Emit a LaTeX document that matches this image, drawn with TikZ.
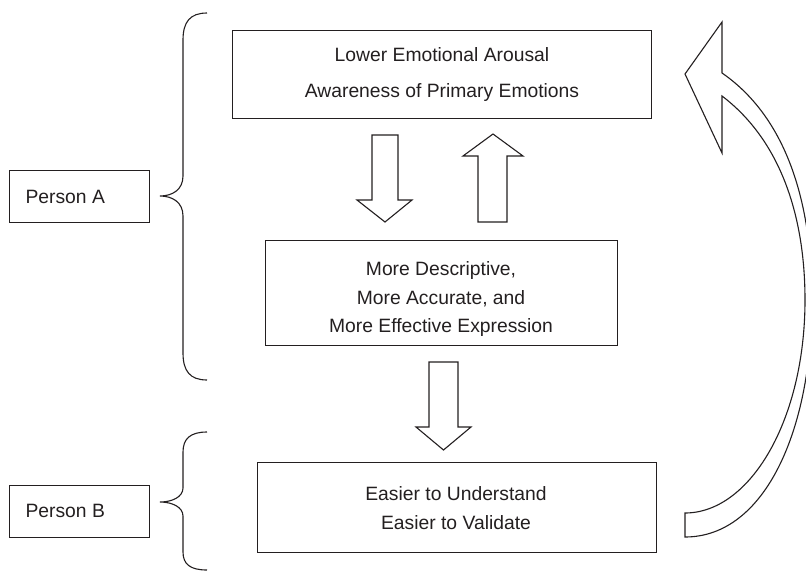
\documentclass[tikz,border=0pt]{standalone}
\usepackage{fontspec}
\setmainfont{Liberation Sans}
\definecolor{ink}{HTML}{231F20}
\begin{document}
\begin{tikzpicture}[x=1pt,y=-1pt,
  line width=1.1pt, draw=ink,
  box/.style={draw=ink, line width=1.1pt, inner sep=0pt, anchor=north west},
  txt/.style={text=ink, font=\fontsize{19.3}{23}\selectfont, inner sep=0pt, anchor=base},
  ptxt/.style={text=ink, font=\fontsize{19.3}{23}\selectfont, inner sep=0pt, anchor=base west},
  blockarrow/.style={draw=ink, line width=1.1pt, fill=white, line join=miter},
  brace/.style={draw=ink, line width=1.1pt}]
\useasboundingbox (0,0) rectangle (806,571);

% boxes
\node[box, minimum width=419pt, minimum height=88pt] (top) at (232,30) {};
\node[box, minimum width=352pt, minimum height=105pt] (mid) at (265,240) {};
\node[box, minimum width=399pt, minimum height=90pt] (bot) at (257,462) {};
\node[box, minimum width=140pt, minimum height=52pt] (pa) at (9,170) {};
\node[box, minimum width=140pt, minimum height=52pt] (pb) at (9,485) {};

% texts
\node[txt] (t1) at (442,61) {Lower Emotional Arousal};
\node[txt] (t2) at (442,97) {Awareness of Primary Emotions};
\node[txt] (m1) at (441,275) {More Descriptive,};
\node[txt] (m2) at (441,304) {More Accurate, and};
\node[txt] (m3) at (441,332) {More Effective Expression};
\node[txt] (b1) at (456,500) {Easier to Understand};
\node[txt] (b2) at (456,529) {Easier to Validate};
\node[ptxt] (pat) at (25,203) {Person A};
\node[ptxt] (pbt) at (25,517) {Person B};

% block arrows
\draw[blockarrow] (372,135) -- (398,135) -- (398,200) -- (412,200) -- (385,222) -- (357,200) -- (372,200) -- cycle;
\draw[blockarrow] (478,222) -- (507,222) -- (507,156) -- (523,156) -- (493,134) -- (463,156) -- (478,156) -- cycle;
\draw[blockarrow] (429,362) -- (458,362) -- (458,427) -- (471,427) -- (443.5,450) -- (416,427) -- (429,427) -- cycle;

% braces
\draw[brace] (207,13) .. controls (190,13) and (183,22) .. (183,40) -- (183,176)
  .. controls (183,190) and (172,196) .. (160,196)
  .. controls (172,196) and (183,202) .. (183,216) -- (183,353)
  .. controls (183,371) and (190,380) .. (207,380);
\draw[brace] (207,432) .. controls (190,432) and (183,439) .. (183,452) -- (183,488)
  .. controls (183,497) and (172,502) .. (160,502)
  .. controls (172,502) and (183,507) .. (183,516) -- (183,552)
  .. controls (183,564) and (190,570) .. (207,570);

% curved return arrow
\begin{scope}
\clip (0,0) rectangle (806,571);
\draw[blockarrow, line join=miter] (685,513) .. controls (750,513) and (805,420) .. (805,300)
  .. controls (805,215) and (780,140) .. (722,96)
  -- (722,153) -- (685,74) -- (722,22) -- (722,73)
  .. controls (780,113) and (812,190) .. (812,300)
  .. controls (812,430) and (765,537) .. (685,537) -- cycle;
\end{scope}
\end{tikzpicture}
\end{document}
